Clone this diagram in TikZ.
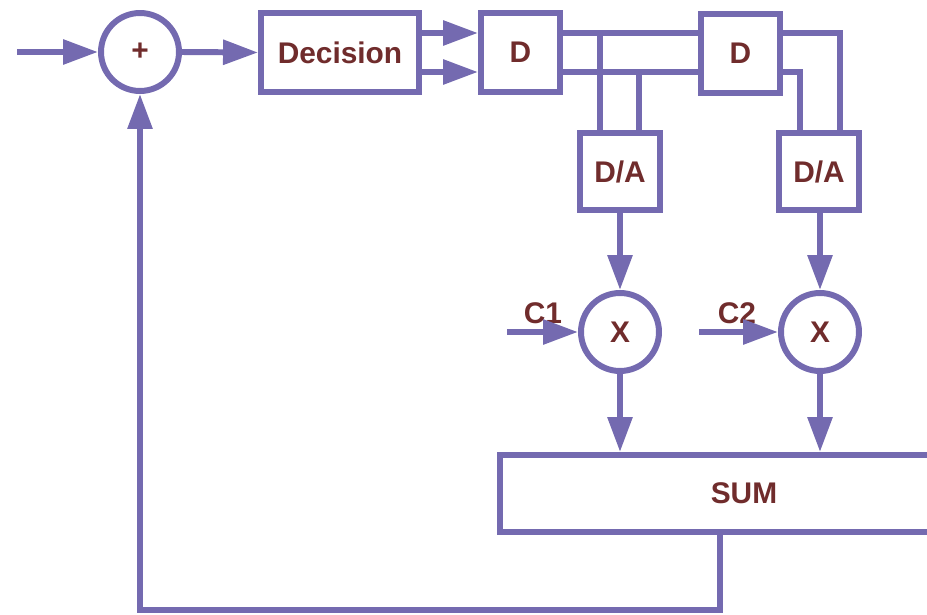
\documentclass[tikz,border=0pt]{standalone}
\usepackage{fontspec}
\setmainfont{Liberation Sans}
\usetikzlibrary{arrows.meta,positioning,calc}
\definecolor{sigpurple}{RGB}{116,106,176}
\definecolor{sigbrown}{RGB}{112,44,44}
\tikzset{
  sbox/.style={draw=sigpurple, fill=white, line width=3.4pt, text=sigbrown, inner sep=0pt,
               minimum width=1.58cm, minimum height=1.58cm, font=\fontsize{17}{20}\selectfont\bfseries},
  rnode/.style={circle, draw=sigpurple, fill=white, line width=3.4pt, text=sigbrown, inner sep=0pt,
               minimum size=1.56cm, font=\fontsize{17}{20}\selectfont\bfseries},
  lbl/.style={text=sigbrown, inner sep=0pt, font=\fontsize{17}{20}\selectfont\bfseries},
  wire/.style={line width=3.4pt, draw=sigpurple},
  flow/.style={-{Triangle[length=0.7cm, width=0.48cm]}, line width=3.4pt, draw=sigpurple},
}
\begin{document}
\begin{tikzpicture}[x=0.02cm, y=-0.02cm]
    \useasboundingbox (0,0) rectangle (927,615);
    \clip (0,0) rectangle (927,615);
    \node[rnode] (plus) at (140,52) {+};
    \node[sbox, minimum width=3.16cm] (dec) at (340,52.5) {Decision};
    \node[sbox] (d1) at (520.5,52.5) {D};
    \node[sbox] (d2) at (740.5,53.5) {D};
    \node[sbox, minimum width=1.6cm, minimum height=1.54cm] (da1) at (620,171.5) {D/A};
    \node[sbox, minimum width=1.6cm, minimum height=1.54cm] (da2) at (819,171.5) {D/A};
    \node[rnode] (m1) at (620,332) {X};
    \node[rnode] (m2) at (820,332) {X};
    \node[sbox, minimum width=9.76cm, minimum height=1.54cm] (sum) at (744,493.5) {SUM};
    \node[lbl] (c1) at (543,313) {C1};
    \node[lbl] (c2) at (737,313) {C2};
    \coordinate (in) at (17,52);
    \coordinate (c1in) at (507,332);
    \coordinate (c2in) at (699,332);
    \coordinate (hi) at (0,33);
    \coordinate (lo) at (0,72);
    \coordinate (t1) at (600,33);
    \coordinate (t2) at (639,72);
    \coordinate (r1) at (840,33);
    \coordinate (r2) at (800,72);
    \coordinate (fb) at (720,610);
    \draw[flow] (in) -- (plus.west);
    \draw[flow] (plus.east) -- (dec.west);
    \draw[flow] (dec.east |- hi) -- (d1.west |- hi);
    \draw[flow] (dec.east |- lo) -- (d1.west |- lo);
    \draw[wire] (d1.east |- hi) -- (d2.west |- hi);
    \draw[wire] (d1.east |- lo) -- (d2.west |- lo);
    \draw[wire] (t1) -- (t1 |- da1.north);
    \draw[wire] (t2) -- (t2 |- da1.north);
    \draw[wire] (d2.east |- hi) -| (r1 |- da2.north);
    \draw[wire] (d2.east |- lo) -| (r2 |- da2.north);
    \draw[flow] (da1.south -| m1) -- (m1.north);
    \draw[flow] (da2.south -| m2) -- (m2.north);
    \draw[flow] (c1in) -- (m1.west);
    \draw[flow] (c2in) -- (m2.west);
    \draw[flow] (m1.south) -- (sum.north -| m1);
    \draw[flow] (m2.south) -- (sum.north -| m2);
    \draw[flow] (sum.south -| fb) -- (fb) -| (plus.south);
  \end{tikzpicture}
\end{document}
